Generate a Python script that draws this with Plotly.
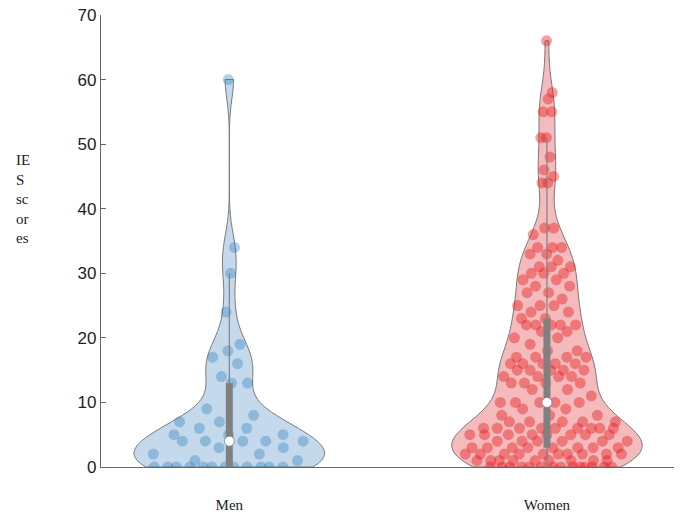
import numpy as np
import plotly.graph_objects as go

categories = ["Men", "Women"]

men_scores = [60, 34, 30, 24, 19, 18, 17, 16, 14, 13, 13, 9, 8, 7, 7, 6, 6,
              5, 5, 5, 4, 4, 4, 4, 4, 3, 3, 2, 2, 1, 1,
              0, 0, 0, 0, 0, 0, 0, 0, 0, 0, 0, 0]

women_scores = ([66, 58, 57, 55, 55, 51, 51, 48, 46, 45, 44, 44,
                 37, 37, 36, 34, 34, 34, 33, 33, 32, 31, 31, 31, 30, 30, 30, 29, 29, 28, 28,
                 27, 27, 26, 25, 25, 25, 24, 24, 23, 23, 22, 22, 22, 22, 22, 21, 21, 20, 20, 19,
                 18, 18, 17, 17, 17, 17, 16, 16, 16, 16, 16, 15, 15, 15, 15, 15,
                 14, 14, 14, 14, 13, 13, 13, 13, 12, 12, 11, 10, 10, 10, 10, 10, 9, 9, 8, 8, 8]
                + [7] * 5 + [6] * 9 + [5] * 8 + [4] * 6 + [3] * 8 + [2] * 10 + [1] * 9 + [0] * 14)

y_ticks = [0, 10, 20, 30, 40, 50, 60, 70]

series = [
    dict(name="Men", pos=0, data=men_scores, fill="rgb(197,217,237)", point="rgba(31,119,180,0.34)", bw=3.0),
    dict(name="Women", pos=1, data=women_scores, fill="rgb(245,186,188)", point="rgba(228,26,28,0.42)", bw=3.5),
]

VIOLIN_WIDTH = 0.6


def kde(data, pts, bw):
    d = np.asarray(data, dtype=float)[None, :]
    p = np.asarray(pts, dtype=float)[:, None]
    return np.exp(-0.5 * ((p - d) / bw) ** 2).sum(axis=1)


fig = go.Figure()

for s in series:
    fig.add_trace(go.Violin(
        x=[s["pos"]] * len(s["data"]), y=s["data"], name=s["name"],
        fillcolor=s["fill"], line=dict(color="#7a7a7a", width=1),
        opacity=1, points=False,
        spanmode="hard", bandwidth=s["bw"], width=VIOLIN_WIDTH, scalemode="width",
        box_visible=False, meanline_visible=False, showlegend=False,
        hoverinfo="skip",
    ))

# sina-style jitter: spread points within the local violin width
for s in series:
    d = np.array(s["data"], dtype=float)
    grid = np.linspace(d.min(), d.max(), 400)
    kmax = kde(d, grid, s["bw"]).max()
    local = kde(d, d, s["bw"]) / kmax
    n = len(d)
    spread = 2 * ((np.arange(n) * 0.6180339887 + 0.37) % 1.0) - 1
    xs = s["pos"] + (VIOLIN_WIDTH / 2) * 0.9 * local * spread
    fig.add_trace(go.Scatter(
        x=xs, y=d, mode="markers",
        marker=dict(color=s["point"], size=11, line=dict(width=0)),
        showlegend=False, hoverinfo="skip",
    ))

for s in series:
    d = np.array(s["data"])
    q1 = np.percentile(d, 25, method="nearest")
    med = np.percentile(d, 50, method="nearest")
    q3 = np.percentile(d, 75, method="nearest")
    iqr = q3 - q1
    hi = d[d <= q3 + 1.5 * iqr].max()
    lo = d[d >= q1 - 1.5 * iqr].min()
    p = s["pos"]
    fig.add_trace(go.Scatter(x=[p, p], y=[lo, hi], mode="lines",
                             line=dict(color="#808080", width=1.2), showlegend=False, hoverinfo="skip"))
    fig.add_trace(go.Scatter(x=[p, p], y=[q1, q3], mode="lines",
                             line=dict(color="#808080", width=7), showlegend=False, hoverinfo="skip"))
    fig.add_trace(go.Scatter(x=[p], y=[med], mode="markers",
                             marker=dict(color="white", size=10, line=dict(color="#808080", width=0.8)),
                             showlegend=False, hoverinfo="skip"))

fig.update_layout(
    width=681, height=515,
    margin=dict(l=101, r=7, t=15, b=48),
    paper_bgcolor="white", plot_bgcolor="white",
    showlegend=False,
    xaxis=dict(
        range=[-0.404, 1.4], tickvals=[0, 1], ticktext=categories,
        showgrid=False, zeroline=False,
        showline=True, linecolor="#666666", linewidth=1.2,
        ticks="", ticklabelstandoff=24, automargin=False,
        tickfont=dict(family="Liberation Serif", size=15, color="#222222"),
    ),
    yaxis=dict(
        range=[0, 70], tickvals=y_ticks, showgrid=False, zeroline=False,
        showline=True, linecolor="#666666", linewidth=1.2,
        ticks="inside", ticklen=5, tickcolor="#666666", automargin=False,
        tickfont=dict(family="Liberation Sans", size=17, color="#222222"),
    ),
    annotations=[dict(
        text="IE<br>S<br>sc<br>or<br>es", xref="paper", yref="paper",
        x=-0.151, y=0.593, xanchor="left", yanchor="middle", align="left",
        showarrow=False, font=dict(family="Liberation Serif", size=15, color="#222222"),
    )],
)

fig.write_html("out.html")
